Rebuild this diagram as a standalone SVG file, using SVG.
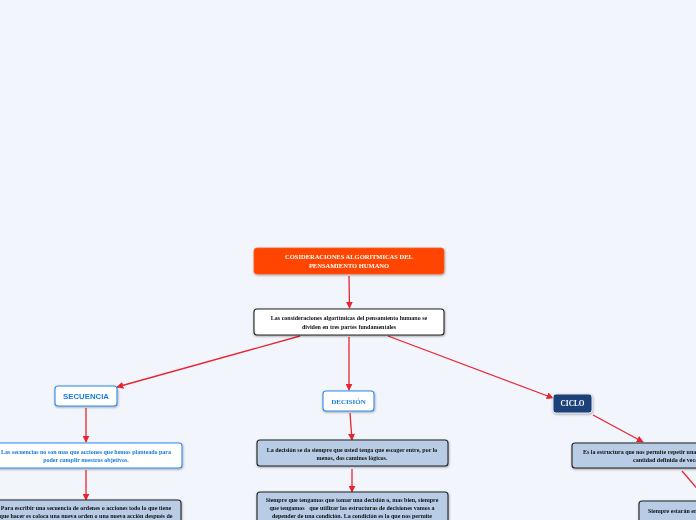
<svg xmlns="http://www.w3.org/2000/svg" width="696" height="520" viewBox="0 0 696 520">
<defs>
<marker id="arr" viewBox="0 0 10 10" refX="9" refY="5" markerWidth="7" markerHeight="7" markerUnits="userSpaceOnUse" orient="auto">
<path d="M0,0 L10,5 L0,10 z" fill="#e8252e"/>
</marker>
<filter id="sh" x="-10%" y="-30%" width="120%" height="160%">
<feDropShadow dx="0.5" dy="1" stdDeviation="0.8" flood-color="#000" flood-opacity="0.35"/>
</filter>
<style>
.bg{fill:#f3f5fd}
.edge{stroke:#e8252e;stroke-width:1.3;fill:none;marker-end:url(#arr)}
.root{fill:#ff4500;stroke:#ff5a1f;stroke-width:0.8}
.white{fill:#ffffff;stroke:#222;stroke-width:1.1}
.topic{fill:#ffffff;stroke:#2f8ce8;stroke-width:1.1}
.blue{fill:#b9cce6;stroke:#222;stroke-width:1.1}
.navy{fill:#1b3f78;stroke:#dfe4ee;stroke-width:1}
text{font-family:"Liberation Serif","DejaVu Serif",serif;font-weight:bold;text-anchor:middle}
.tw{fill:#ffffff;font-size:6.5px}
.tb{fill:#111;font-size:6px}
.tblue{fill:#1a7be0;font-size:6px}
.tsec{fill:#1a7be0;font-size:7.8px;font-family:"Liberation Sans","DejaVu Sans",sans-serif}
.tdec{fill:#1a7be0;font-size:7px}
.tcic{fill:#ffffff;font-size:7.3px}
</style>
</defs>
<rect class="bg" x="0" y="0" width="696" height="520"/>
<g id="connectors">
<line class="edge" x1="349" y1="276" x2="349.5" y2="308"/>
<line class="edge" x1="300" y1="336" x2="117" y2="387"/>
<line class="edge" x1="349" y1="337" x2="349" y2="390"/>
<line class="edge" x1="388" y1="336" x2="553" y2="398"/>
<line class="edge" x1="86" y1="408" x2="86" y2="442"/>
<line class="edge" x1="86" y1="470" x2="86" y2="500"/>
<line class="edge" x1="350" y1="413" x2="352" y2="440"/>
<line class="edge" x1="352" y1="469" x2="352" y2="492"/>
<line class="edge" x1="593" y1="415" x2="643" y2="442"/>
<line x1="682" y1="471" x2="700" y2="492" stroke="#e8252e" stroke-width="1.3"/>
</g>
<g id="root" filter="url(#sh)">
<rect class="root" x="254" y="248" width="190" height="26" rx="3"/>
<text class="tw" x="349" y="259">COSIDERACIONES ALGORITMICAS DEL</text>
<text class="tw" x="349" y="267.5">PENSAMIENTO HUMANO</text>
</g>
<g id="intro" filter="url(#sh)">
<rect class="white" x="254" y="309" width="190" height="26" rx="3"/>
<text class="tb" x="349" y="320">Las consideraciones algorítmicas del pensamiento humano se</text>
<text class="tb" x="349" y="328.5">dividen en tres partes fundamentales</text>
</g>
<g id="secuencia" filter="url(#sh)">
<rect class="topic" x="55" y="386" width="62" height="20" rx="3"/>
<text class="tsec" x="86" y="399">SECUENCIA</text>
</g>
<g id="secuencia-def" filter="url(#sh)">
<rect class="topic" x="-10" y="443" width="192" height="25" rx="3"/>
<text class="tblue" x="86" y="453.5">Las secuencias no son mas que acciones que hemos planteado para</text>
<text class="tblue" x="86" y="461.5">poder cumplir nuestros objetivos.</text>
</g>
<g id="secuencia-detalle" filter="url(#sh)">
<rect class="blue" x="-10" y="500" width="191" height="34" rx="3"/>
<text class="tb" x="86" y="509.5">Para escribir una secuencia de ordenes o acciones todo lo que tiene</text>
<text class="tb" x="86" y="518">que hacer es coloca una nueva orden o una nueva acción después de</text>
</g>
<g id="decision" filter="url(#sh)">
<rect class="topic" x="323" y="391" width="51" height="20" rx="3"/>
<text class="tdec" x="348.5" y="403.5">DECISIÓN</text>
</g>
<g id="decision-def" filter="url(#sh)">
<rect class="blue" x="257" y="440" width="191" height="26" rx="3"/>
<text class="tb" x="352" y="451.5">La decisión se da siempre que usted tenga que escoger entre, por lo</text>
<text class="tb" x="352" y="459.5">menos, dos caminos lógicos.</text>
</g>
<g id="decision-detalle" filter="url(#sh)">
<rect class="blue" x="257" y="492" width="191" height="40" rx="3"/>
<text class="tb" x="352" y="501.5">Siempre que tengamos que tomar una decisión o, mas bien, siempre</text>
<text class="tb" x="352" y="509.5" xml:space="preserve">que tengamos   que utilizar las estructuras de decisiones vamos a</text>
<text class="tb" x="352" y="517.5">depender de una condición. La condición es la que nos permite</text>
</g>
<g id="ciclo" filter="url(#sh)">
<rect class="navy" x="553" y="394" width="39" height="19" rx="3"/>
<text class="tcic" x="572.5" y="406">CICLO</text>
</g>
<g id="ciclo-def" filter="url(#sh)">
<rect class="blue" x="572" y="443" width="190" height="25" rx="3"/>
<text class="tb" x="583" y="453.5" style="text-anchor:start">Es la estructura que nos permite repetir una</text>
<text class="tb" x="633" y="461.5" style="text-anchor:start">cantidad definida de veces</text>
</g>
<g id="ciclo-detalle" filter="url(#sh)">
<rect class="blue" x="639" y="501" width="100" height="25" rx="3"/>
<text class="tb" x="648" y="512.5" style="text-anchor:start">Siempre estarán en</text>
</g>
</svg>
